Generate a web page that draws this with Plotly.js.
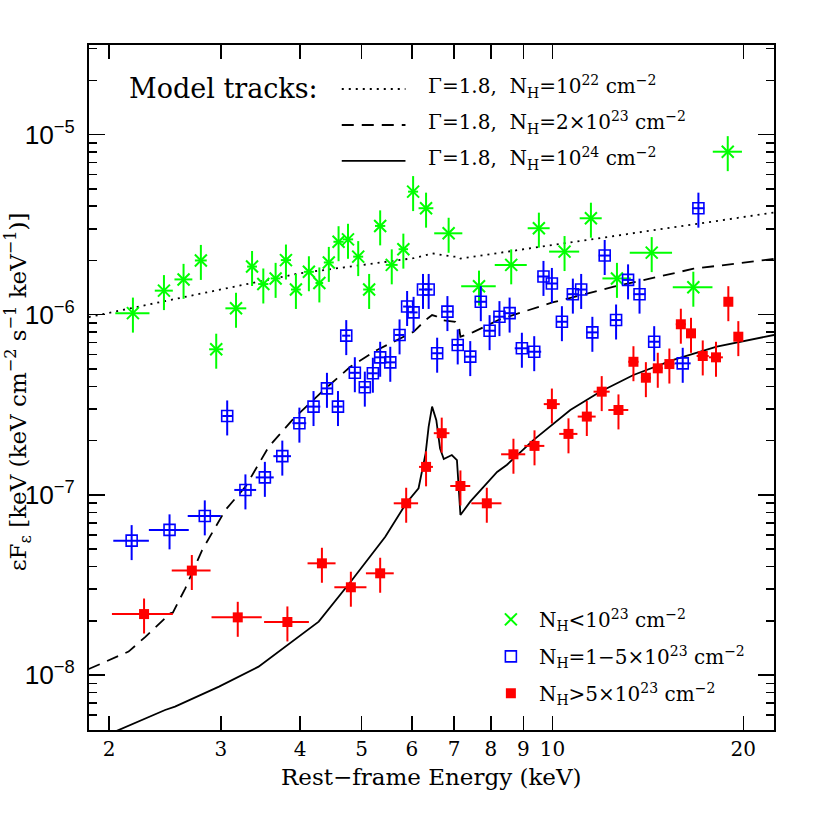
<!DOCTYPE html>
<html>
<head>
<meta charset="utf-8">
<script src="https://cdn.plot.ly/plotly-3.0.1.min.js"></script>
<style>
body { margin: 0; background: #fff; }
#chart { width: 817px; height: 817px; }
</style>
</head>
<body>
<div id="chart"></div>
<script>
// rest-frame energy (keV), flux, half bin width (keV)
var greenE = [2.18, 2.44, 2.62, 2.79, 2.95, 3.17, 3.36, 3.50, 3.66, 3.80, 3.94, 4.13, 4.29, 4.44, 4.60, 4.76, 4.94, 5.14, 5.35, 5.58, 5.82, 6.03, 6.32, 6.86, 7.66, 8.61, 9.52, 10.45, 11.50, 12.64, 14.34, 16.68, 18.9];
var greenF = [1.02e-6, 1.36e-6, 1.57e-6, 2.0e-6, 6.43e-7, 1.085e-6, 1.85e-6, 1.48e-6, 1.59e-6, 2.01e-6, 1.38e-6, 1.73e-6, 1.50e-6, 1.95e-6, 2.54e-6, 2.62e-6, 2.10e-6, 1.38e-6, 3.11e-6, 1.89e-6, 2.31e-6, 4.82e-6, 3.90e-6, 2.83e-6, 1.44e-6, 1.89e-6, 3.02e-6, 2.24e-6, 3.43e-6, 1.59e-6, 2.21e-6, 1.42e-6, 8.03e-6];
var greenEerr = [0.135, 0.08, 0.085, 0.06, 0.075, 0.12, 0.06, 0.065, 0.065, 0.07, 0.07, 0.075, 0.06, 0.08, 0.085, 0.09, 0.09, 0.11, 0.1, 0.12, 0.1, 0.11, 0.17, 0.35, 0.48, 0.5, 0.38, 0.57, 0.46, 0.65, 1.1, 1.2, 1.0];

var blueE = [2.17, 2.49, 2.83, 3.07, 3.28, 3.52, 3.75, 3.99, 4.20, 4.41, 4.59, 4.73, 4.88, 5.06, 5.21, 5.35, 5.55, 5.74, 5.90, 6.04, 6.25, 6.38, 6.58, 6.83, 7.09, 7.42, 7.71, 7.96, 8.25, 8.56, 8.95, 9.36, 9.68, 9.98, 10.35, 10.77, 11.10, 11.56, 12.09, 12.60, 13.16, 13.72, 14.47, 16.05, 16.99];
var blueF = [5.57e-8, 6.39e-8, 7.64e-8, 2.74e-7, 1.065e-7, 1.25e-7, 1.64e-7, 2.50e-7, 3.09e-7, 3.90e-7, 3.09e-7, 7.65e-7, 4.76e-7, 3.96e-7, 4.73e-7, 5.80e-7, 5.44e-7, 7.72e-7, 1.11e-6, 1.03e-6, 1.38e-6, 1.38e-6, 6.11e-7, 1.04e-6, 6.79e-7, 5.85e-7, 1.18e-6, 8.15e-7, 9.75e-7, 1.02e-6, 6.51e-7, 6.23e-7, 1.63e-6, 1.49e-6, 9.14e-7, 1.30e-6, 1.38e-6, 7.98e-7, 2.13e-6, 9.34e-7, 1.56e-6, 1.30e-6, 7.08e-7, 5.37e-7, 3.90e-6];
var blueEerr = [0.14, 0.18, 0.17, 0.055, 0.13, 0.115, 0.12, 0.1, 0.105, 0.095, 0.08, 0.07, 0.09, 0.09, 0.095, 0.1, 0.1, 0.1, 0.085, 0.09, 0.09, 0.09, 0.12, 0.15, 0.15, 0.16, 0.17, 0.17, 0.18, 0.19, 0.23, 0.24, 0.21, 0.22, 0.22, 0.23, 0.24, 0.25, 0.26, 0.27, 0.29, 0.3, 0.31, 0.47, 0.37];

var redE = [2.27, 2.70, 3.19, 3.82, 4.33, 4.81, 5.35, 5.88, 6.32, 6.69, 7.16, 7.88, 8.68, 9.37, 9.98, 10.60, 11.33, 11.96, 12.71, 13.42, 14.04, 14.66, 15.29, 15.94, 16.54, 17.26, 18.11, 18.94, 19.64];
var redF = [2.18e-8, 3.80e-8, 2.09e-8, 1.97e-8, 4.17e-8, 3.07e-8, 3.67e-8, 8.98e-8, 1.43e-7, 2.20e-7, 1.12e-7, 8.98e-8, 1.68e-7, 1.87e-7, 3.19e-7, 2.18e-7, 2.72e-7, 3.74e-7, 2.96e-7, 5.48e-7, 4.47e-7, 5.04e-7, 5.32e-7, 8.85e-7, 7.88e-7, 5.90e-7, 5.80e-7, 1.18e-6, 7.55e-7];
var redEerr = [0.25, 0.19, 0.29, 0.31, 0.22, 0.28, 0.27, 0.26, 0.16, 0.19, 0.26, 0.43, 0.38, 0.34, 0.29, 0.35, 0.37, 0.35, 0.46, 0.25, 0.25, 0.27, 0.28, 0.29, 0.3, 0.38, 0.46, 0.28, 0.28];

var fluxErrPercent = 22;

// model tracks, Gamma = 1.8
var nh22E = [1.857, 2.01, 2.79, 4.00, 5.195, 5.75, 6.04, 6.25, 6.46, 6.98, 7.10, 7.16, 10.0, 15.0, 22.36];
var nh22F = [9.7e-7, 1.03e-6, 1.31e-6, 1.70e-6, 1.91e-6, 2.01e-6, 2.06e-6, 2.12e-6, 2.19e-6, 2.10e-6, 2.10e-6, 2.05e-6, 2.44e-6, 3.01e-6, 3.69e-6];

var nh2e23E = [1.857, 2.146, 2.281, 2.496, 2.52, 2.637, 2.803, 3.05, 3.28, 3.57, 3.91, 4.36, 4.80, 5.29, 6.04, 6.31, 6.46, 6.56, 6.69, 7.03, 7.12, 7.16, 7.5, 8.25, 10.0, 12.5, 16.7, 22.36];
var nh2e23F = [1.08e-8, 1.35e-8, 1.63e-8, 2.20e-8, 2.22e-8, 3.03e-8, 4.94e-8, 8.24e-8, 1.11e-7, 1.85e-7, 2.66e-7, 3.82e-7, 5.14e-7, 6.37e-7, 8.04e-7, 9.34e-7, 9.96e-7, 9.8e-7, 9.34e-7, 9.14e-7, 8.6e-7, 7.55e-7, 8.0e-7, 9.4e-7, 1.17e-6, 1.43e-6, 1.80e-6, 2.04e-6];

var nh24E = [1.857, 2.07, 2.45, 2.54, 2.98, 3.44, 3.98, 4.28, 4.83, 5.45, 5.88, 6.15, 6.31, 6.38, 6.46, 6.56, 6.65, 6.74, 6.94, 7.07, 7.16, 7.42, 8.18, 8.48, 9.34, 10.67, 11.89, 13.42, 15.51, 18.16, 22.36];
var nh24F = [4.2e-9, 4.95e-9, 6.40e-9, 6.68e-9, 8.63e-9, 1.113e-8, 1.63e-8, 1.98e-8, 3.37e-8, 5.86e-8, 8.98e-8, 1.088e-7, 1.70e-7, 2.39e-7, 3.09e-7, 2.60e-7, 1.81e-7, 1.58e-7, 1.665e-7, 1.56e-7, 7.73e-8, 9.17e-8, 1.34e-7, 1.47e-7, 2.02e-7, 2.96e-7, 3.74e-7, 4.63e-7, 5.61e-7, 6.65e-7, 7.72e-7];

var xTicks = [2, 3, 4, 5, 6, 7, 8, 9, 10, 20];

var serif = 'DejaVu Serif, serif';

function dataTrace(name, xs, ys, xerr, color, marker) {
    return {
        x: xs,
        y: ys,
        name: name,
        legendgroup: name,
        mode: 'markers',
        type: 'scatter',
        marker: marker,
        error_x: { type: 'data', array: xerr, color: color, thickness: 2, width: 0 },
        error_y: { type: 'percent', value: fluxErrPercent, color: color, thickness: 2, width: 0 }
    };
}

function modelTrace(xs, ys, dash) {
    return {
        x: xs,
        y: ys,
        mode: 'lines',
        type: 'scatter',
        showlegend: false,
        hoverinfo: 'skip',
        line: { color: 'black', width: 1.8, dash: dash }
    };
}

var dotDash = '2px,5px';
var longDash = '12px,8px';

var traces = [
    modelTrace(nh22E, nh22F, dotDash),
    modelTrace(nh2e23E, nh2e23F, longDash),
    modelTrace(nh24E, nh24F, 'solid'),
    dataTrace('N<sub>H</sub>&lt;10<sup>23</sup> cm<sup>−2</sup>', greenE, greenF, greenEerr, '#00ff00',
        { symbol: 'x-thin-open', size: 12, color: '#00ff00', line: { color: '#00ff00', width: 2 } }),
    dataTrace('N<sub>H</sub>=1−5×10<sup>23</sup> cm<sup>−2</sup>', blueE, blueF, blueEerr, '#0000ff',
        { symbol: 'square-open', size: 11, color: '#0000ff', line: { width: 1.6 } }),
    dataTrace('N<sub>H</sub>&gt;5×10<sup>23</sup> cm<sup>−2</sup>', redE, redF, redEerr, '#ff0000',
        { symbol: 'square', size: 10, color: '#ff0000', line: { width: 0 } })
];

var trackLabels = [
    'Γ=1.8,  N<sub>H</sub>=10<sup>22</sup> cm<sup>−2</sup>',
    'Γ=1.8,  N<sub>H</sub>=2×10<sup>23</sup> cm<sup>−2</sup>',
    'Γ=1.8,  N<sub>H</sub>=10<sup>24</sup> cm<sup>−2</sup>'
];
var trackDash = [dotDash, longDash, 'solid'];
var trackY = [0.9358, 0.8832, 0.8307];

var shapes = [];
var annotations = [
    {
        text: 'Model tracks:', xref: 'paper', yref: 'paper', x: 0.0554, y: 0.9372,
        xanchor: 'left', yanchor: 'middle', showarrow: false,
        font: { family: serif, size: 27, color: 'black' }
    },
    {
        text: 'Rest−frame Energy (keV)', xref: 'paper', yref: 'paper', x: 0.5, y: -0.0686,
        xanchor: 'center', yanchor: 'middle', showarrow: false,
        font: { family: serif, size: 23, color: 'black' }
    },
    {
        text: 'εF<sub>ε</sub> [keV (keV cm<sup>−2</sup> s<sup>−1</sup> keV<sup>−1</sup>)]',
        xref: 'paper', yref: 'paper', x: -0.104, y: 0.494, textangle: -90,
        xanchor: 'center', yanchor: 'middle', showarrow: false,
        font: { family: serif, size: 23, color: 'black' }
    }
];
for (var i = 0; i < trackLabels.length; i++) {
    shapes.push({
        type: 'line', xref: 'paper', yref: 'paper',
        x0: 0.369, x1: 0.462, y0: trackY[i], y1: trackY[i],
        line: { color: 'black', width: 1.8, dash: trackDash[i] }
    });
    annotations.push({
        text: trackLabels[i], xref: 'paper', yref: 'paper', x: 0.4916, y: trackY[i] + 0.003,
        xanchor: 'left', yanchor: 'middle', showarrow: false,
        font: { family: serif, size: 20, color: 'black' }
    });
}

var layout = {
    width: 817,
    height: 817,
    margin: { l: 89, r: 43, t: 45, b: 87 },
    paper_bgcolor: 'white',
    plot_bgcolor: 'white',
    showlegend: true,
    legend: {
        x: 0.575, y: 0.19, xanchor: 'left', yanchor: 'top',
        bgcolor: 'rgba(0,0,0,0)', borderwidth: 0,
        itemwidth: 46,
        tracegroupgap: 8,
        font: { family: serif, size: 20, color: 'black' }
    },
    xaxis: {
        type: 'log',
        range: [0.2692, 1.3494],
        tickvals: xTicks,
        ticks: 'inside', ticklen: 14, tickwidth: 1.5, tickcolor: 'black',
        showline: true, linewidth: 2, linecolor: 'black', mirror: 'ticks',
        showgrid: false, zeroline: false,
        tickfont: { family: serif, size: 20, color: 'black' }
    },
    yaxis: {
        type: 'log',
        range: [-8.305, -4.503],
        dtick: 1,
        exponentformat: 'power',
        ticks: 'inside', ticklen: 16, tickwidth: 1.5, tickcolor: 'black',
        ticklabelstandoff: 8,
        minor: { ticks: 'inside', ticklen: 8, tickwidth: 1.5, tickcolor: 'black', dtick: 'D1', showgrid: false },
        showline: true, linewidth: 2, linecolor: 'black', mirror: 'ticks',
        showgrid: false, zeroline: false,
        tickfont: { family: 'Liberation Sans, Arial, sans-serif', size: 21, color: 'black' }
    },
    shapes: shapes,
    annotations: annotations
};

Plotly.newPlot('chart', traces, layout, { displayModeBar: false, staticPlot: true });
</script>
</body>
</html>
